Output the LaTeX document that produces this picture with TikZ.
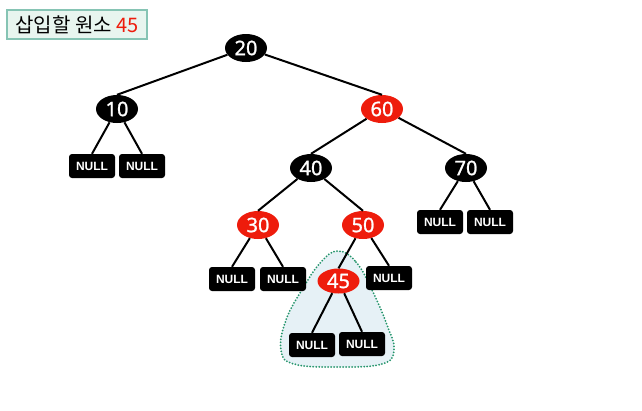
\documentclass[tikz,border=0pt]{standalone}
\usepackage{fontspec}
\setmainfont{Noto Sans}
\newfontfamily\krfont{Noto Sans CJK KR}
\newfontfamily\nlfont{Liberation Sans}
\newfontfamily\numfont{Noto Sans}[FakeBold=1.2]
\usetikzlibrary{shapes.geometric}
\definecolor{rbred}{HTML}{EE1C0C}
\definecolor{titlefill}{HTML}{E8F5EF}
\definecolor{titleline}{HTML}{86C4B4}
\definecolor{blobfill}{HTML}{E6F1F6}
\definecolor{blobline}{HTML}{23946A}
\tikzset{
  rbnode/.style={ellipse, minimum width=42pt, minimum height=28pt, inner sep=0pt,
    text=white, font=\numfont\fontsize{20}{20}\selectfont},
  blacknode/.style={rbnode, fill=black},
  rednode/.style={rbnode, fill=rbred},
  nullbox/.style={rectangle, rounded corners=3pt, fill=black, text=white,
    minimum width=46pt, minimum height=24pt, inner sep=0pt,
    font=\nlfont\fontsize{12}{12}\selectfont\bfseries},
  edge/.style={draw=black, line width=2pt},
  titlebox/.style={rectangle, fill=titlefill, draw=titleline, line width=1.2pt,
    minimum width=140pt, minimum height=29pt, inner sep=0pt}
}
\begin{document}
\begin{tikzpicture}[x=1pt,y=-1pt]
\useasboundingbox (0,0) rectangle (642,410);
% title
\node[titlebox] (title) at (77,24.5) {\krfont\fontsize{20}{20}\selectfont 삽입할 원소 \textcolor{rbred}{45}};
% highlight blob
\fill[blobfill] plot[smooth cycle, tension=0.7] coordinates {(338,251) (356,262) (372,290) (387,325) (394,350) (382,364) (338,367) (294,364) (281,350) (286,320) (303,288) (321,262)};
\draw[blobline, line width=2pt, dash pattern=on 0pt off 3pt, line cap=round] plot[smooth cycle, tension=0.7] coordinates {(338,251) (356,262) (372,290) (387,325) (394,350) (382,364) (338,367) (294,364) (281,350) (286,320) (303,288) (321,262)};
% nodes
\node[blacknode] (n20) at (246,48) {20};
\node[blacknode] (n10) at (117,109) {10};
\node[rednode] (n60) at (382,109) {60};
\node[blacknode] (n40) at (311,168) {40};
\node[blacknode] (n70) at (466,168) {70};
\node[rednode] (n30) at (258,225) {30};
\node[rednode] (n50) at (363,225) {50};
\node[rednode, minimum height=25pt] (n45) at (338.5,281) {45};
\node[nullbox] (u1) at (92,166) {NULL};
\node[nullbox] (u2) at (142,166) {NULL};
\node[nullbox] (u3) at (440,222) {NULL};
\node[nullbox] (u4) at (490,222) {NULL};
\node[nullbox] (u5) at (232,279) {NULL};
\node[nullbox] (u6) at (283,279) {NULL};
\node[nullbox] (u7) at (389,278) {NULL};
\node[nullbox] (u8) at (312,345) {NULL};
\node[nullbox] (u9) at (362,344) {NULL};
% edges
\draw[edge] (n20) -- (n10.north);
\draw[edge] (n20) -- (n60.north);
\draw[edge] (n10) -- (u1.north);
\draw[edge] (n10) -- (u2.north);
\draw[edge] (n60) -- (n40.north);
\draw[edge] (n60) -- (n70.north);
\draw[edge] (n70) -- (u3.north);
\draw[edge] (n70) -- (u4.north);
\draw[edge] (n40) -- (n30.north);
\draw[edge] (n40) -- (n50.north);
\draw[edge] (n30) -- (u5.north);
\draw[edge] (n30) -- (u6.north);
\draw[edge] (n50) -- (n45.north);
\draw[edge] (n50) -- (u7.north);
\draw[edge] (n45) -- (u8.north);
\draw[edge] (n45) -- (u9.north);
\end{tikzpicture}
\end{document}
